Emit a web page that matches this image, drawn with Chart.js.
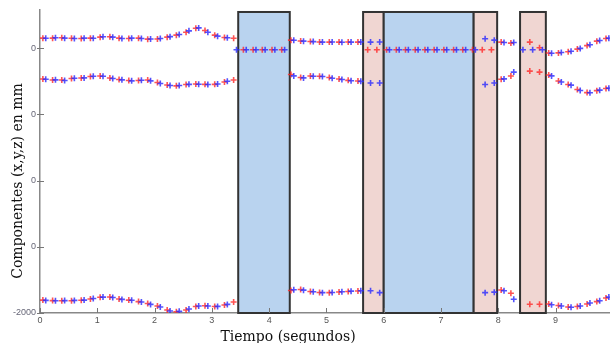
<!DOCTYPE html>
<html>
<head>
<meta charset="utf-8">
<script src="https://cdn.jsdelivr.net/npm/chart.js@4/dist/chart.umd.min.js"></script>
<style>
  html, body { margin: 0; padding: 0; background: #fff; }
  #wrap { width: 610px; height: 343px; }
</style>
</head>
<body>
<div id="wrap"><canvas id="chart" width="610" height="343"></canvas></div>
<script>
// sample times (s) of the red and blue markers
const timesRed = [0.05,0.22,0.38,0.55,0.72,0.88,1.05,1.22,1.38,1.55,1.72,1.88,2.05,2.22,2.38,2.55,2.72,2.88,3.05,3.22,3.38,3.55,3.72,3.88,4.05,4.22,4.38,4.55,4.72,4.88,5.05,5.22,5.38,5.55,5.72,5.88,6.05,6.22,6.38,6.55,6.72,6.88,7.05,7.22,7.38,7.55,7.72,7.88,8.05,8.22,8.38,8.55,8.72,8.88,9.05,9.22,9.38,9.55,9.72,9.88];
const timesBlue = [0.10,0.27,0.43,0.60,0.77,0.93,1.10,1.27,1.43,1.60,1.77,1.93,2.10,2.27,2.43,2.60,2.77,2.93,3.10,3.27,3.43,3.60,3.77,3.93,4.10,4.27,4.43,4.60,4.77,4.93,5.10,5.27,5.43,5.60,5.77,5.93,6.10,6.27,6.43,6.60,6.77,6.93,7.10,7.27,7.43,7.60,7.77,7.93,8.10,8.27,8.43,8.60,8.77,8.93,9.10,9.27,9.43,9.60,9.77,9.93];

// component values (mm)
const topRed = [6300,6300,6310,6295,6290,6300,6330,6340,6300,6290,6300,6270,6275,6330,6390,6480,6600,6530,6390,6320,6295,
  5950,5950,5950,5950,5950,
  6240,6215,6200,6185,6180,6180,6185,6180,
  5950,5950,
  5950,5950,5950,5950,5950,5950,5950,5950,5950,5950,
  5950,5950,
  6180,6150,
  null,
  6180,6010,
  5850,5855,5890,5970,6075,6210,6290];
const topBlue = [6295,6310,6300,6290,6300,6295,6340,6330,6290,6300,6290,6275,6290,6345,6410,6520,6610,6480,6360,6310,5950,
  5950,5950,5950,5950,5950,
  6235,6210,6195,6180,6185,6175,6180,6185,
  6180,6185,
  5950,5950,5950,5950,5950,5950,5950,5950,5950,5950,
  6280,6240,
  6170,6170,
  5950,5950,5950,
  5845,5865,5905,5990,6100,6230,6300];
const midRed = [5065,5035,5035,5080,5095,5140,5155,5095,5050,5020,5020,5035,4960,4885,4860,4900,4915,4905,4905,4975,5035,
  null,null,null,null,null,
  5200,5110,5155,5150,5110,5065,5025,5005,
  null,null,
  null,null,null,null,null,null,null,null,null,null,
  null,null,
  5060,5155,
  null,
  5305,5275,
  5185,5005,4900,4750,4655,4715,4780];
const midBlue = [5060,5040,5020,5090,5100,5150,5150,5080,5040,5010,5030,5010,4930,4870,4870,4905,4910,4900,4915,5000,null,
  null,null,null,null,null,
  5160,5100,5150,5140,5090,5050,5015,4995,
  4945,4945,
  null,null,null,null,null,null,null,null,null,null,
  4900,4945,
  5070,5275,
  null,null,null,
  5160,4975,4880,4720,4650,4730,4790];
const botRed = [-1610,-1625,-1630,-1630,-1615,-1575,-1525,-1515,-1575,-1610,-1655,-1715,-1790,-1910,-1960,-1910,-1805,-1780,-1805,-1760,-1670,
  null,null,null,null,null,
  -1320,-1290,-1350,-1380,-1385,-1365,-1350,-1335,
  null,null,
  null,null,null,null,null,null,null,null,null,null,
  null,null,
  -1305,-1405,
  null,
  -1735,-1735,
  -1730,-1775,-1820,-1805,-1730,-1655,-1545];
const botBlue = [-1620,-1630,-1625,-1620,-1610,-1560,-1520,-1530,-1590,-1615,-1670,-1740,-1820,-1940,-1950,-1880,-1790,-1790,-1800,-1740,null,
  null,null,null,null,null,
  -1300,-1310,-1360,-1385,-1380,-1360,-1340,-1330,
  -1330,-1385,
  null,null,null,null,null,null,null,null,null,null,
  -1385,-1370,
  -1330,-1585,
  null,null,null,
  -1750,-1790,-1825,-1790,-1700,-1630,-1520];

// shaded intervals
const bandStart = [3.46, 5.64, 6.00, 7.57, 8.38];
const bandEnd   = [4.36, 6.00, 7.57, 7.98, 8.83];
const bandKind  = ['blue', 'pink', 'blue', 'pink', 'pink'];
const bandTop = 7090;

const xTicks = [0, 1, 2, 3, 4, 5, 6, 7, 8, 9];
const yTicks = [-2000, 0, 2000, 4000, 6000];

const RED = 'rgba(255,40,40,0.8)';
const BLUE = 'rgba(40,40,255,0.8)';
const bandFill = { blue: '#b9d3ef', pink: '#f0d6d2' };

function pts(times, vals) {
  return times.map((t, i) => ({ x: t, y: vals[i] }));
}
function ds(label, times, vals, color) {
  return {
    label: label,
    data: pts(times, vals),
    pointStyle: 'cross',
    pointRadius: 3,
    pointBorderWidth: 1.6,
    borderColor: color,
    backgroundColor: color,
    showLine: false
  };
}

const bandsPlugin = {
  id: 'bands',
  beforeDatasetsDraw(chart) {
    const { ctx, scales: { x, y } } = chart;
    ctx.save();
    for (let i = 0; i < bandStart.length; i++) {
      const x0 = x.getPixelForValue(bandStart[i]);
      const x1 = x.getPixelForValue(bandEnd[i]);
      const y0 = y.getPixelForValue(bandTop);
      const y1 = y.getPixelForValue(y.min);
      ctx.fillStyle = bandFill[bandKind[i]];
      ctx.fillRect(x0, y0, x1 - x0, y1 - y0);
      ctx.strokeStyle = '#333';
      ctx.lineWidth = 2;
      ctx.strokeRect(x0, y0, x1 - x0, y1 - y0);
    }
    ctx.restore();
  },
  afterDraw(chart) {
    const { ctx, scales: { x, y }, chartArea } = chart;
    ctx.save();
    ctx.strokeStyle = '#777';
    ctx.lineWidth = 1;
    // small tick marks
    x.ticks.forEach((t, i) => {
      const px = Math.round(x.getPixelForTick(i)) + 0.5;
      ctx.beginPath();
      ctx.moveTo(px, chartArea.bottom);
      ctx.lineTo(px, chartArea.bottom - 5);
      ctx.stroke();
    });
    y.ticks.forEach((t, i) => {
      const py = Math.round(y.getPixelForTick(i)) + 0.5;
      ctx.beginPath();
      ctx.moveTo(chartArea.left - 3, py);
      ctx.lineTo(chartArea.left + 4, py);
      ctx.stroke();
    });
    // axis titles
    ctx.fillStyle = '#111';
    ctx.font = '14px "DejaVu Serif"';
    ctx.textAlign = 'center';
    ctx.textBaseline = 'alphabetic';
    ctx.fillText('Tiempo (segundos)', 288, 341);
    ctx.translate(22, 181);
    ctx.rotate(-Math.PI / 2);
    ctx.fillText('Componentes (x,y,z) en mm', 0, 0);
    ctx.restore();
  }
};

new Chart(document.getElementById('chart'), {
  type: 'scatter',
  data: {
    datasets: [
      ds('x azul', timesBlue, topBlue, BLUE),
      ds('y azul', timesBlue, midBlue, BLUE),
      ds('z azul', timesBlue, botBlue, BLUE),
      ds('x rojo', timesRed, topRed, RED),
      ds('y rojo', timesRed, midRed, RED),
      ds('z rojo', timesRed, botRed, RED)
    ]
  },
  options: {
    responsive: false,
    animation: false,
    layout: { autoPadding: false, padding: { top: 10, right: 0, left: 0, bottom: 0 } },
    plugins: { legend: { display: false }, tooltip: { enabled: false } },
    scales: {
      x: {
        type: 'linear',
        min: 0,
        max: 9.95,
        afterFit(scale) { scale.height = 30; scale.paddingRight = 0; scale.paddingLeft = 0; },
        afterBuildTicks(scale) { scale.ticks = xTicks.map(v => ({ value: v })); },
        grid: { display: false, drawTicks: false },
        border: { color: '#888', width: 1.5 },
        ticks: {
          padding: 2,
          maxRotation: 0,
          color: '#555',
          font: { family: 'Liberation Sans', size: 9 }
        }
      },
      y: {
        type: 'linear',
        min: -2000,
        max: 7150,
        afterFit(scale) { scale.width = 40; scale.paddingTop = 0; scale.paddingBottom = 0; },
        afterBuildTicks(scale) { scale.ticks = yTicks.map(v => ({ value: v })); },
        grid: { display: false, drawTicks: false },
        border: { color: '#888', width: 1.5 },
        ticks: {
          padding: 4,
          color: '#667',
          font: { family: 'Liberation Sans', size: 9 },
          callback: v => (v === -2000 ? '-2000' : '0')
        }
      }
    }
  },
  plugins: [bandsPlugin]
});
</script>
</body>
</html>
